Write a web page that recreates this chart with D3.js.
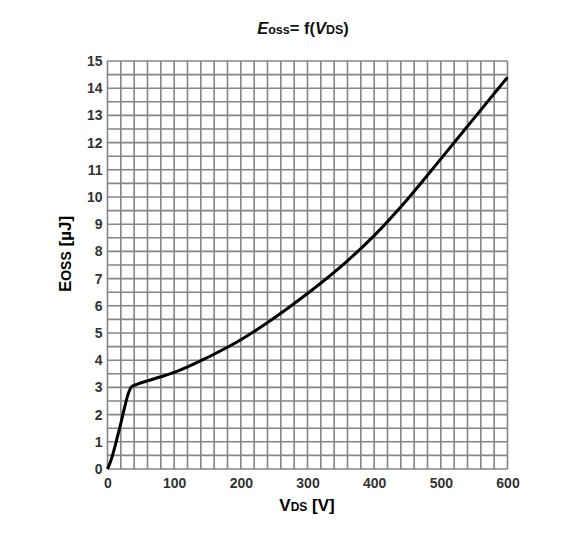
<!DOCTYPE html>
<html>
<head>
<meta charset="utf-8">
<script src="https://cdn.jsdelivr.net/npm/d3@7"></script>
<style>
  body { margin: 0; background: #fff; }
  text { font-family: "Liberation Sans", Arial, sans-serif; font-weight: bold; }
</style>
</head>
<body>
<div id="chart"></div>
<script>
// Eoss curve
const vds  = [0, 5, 10, 15, 20, 25, 30, 36, 45, 60, 80, 100, 150, 200, 250, 300, 350, 400, 450, 500, 550, 600];
const eoss = [0, 0.3, 0.72, 1.2, 1.68, 2.2, 2.68, 3.02, 3.12, 3.24, 3.39, 3.55, 4.1, 4.75, 5.55, 6.45, 7.44, 8.58, 9.92, 11.4, 12.9, 14.4];
const xTicks = [0, 100, 200, 300, 400, 500, 600];
const yTicks = [0, 1, 2, 3, 4, 5, 6, 7, 8, 9, 10, 11, 12, 13, 14, 15];

const width = 580, height = 540;
const margin = { left: 107.5, right: 72.5, top: 61, bottom: 71 };

const svg = d3.select("#chart").append("svg")
  .attr("width", width)
  .attr("height", height);

const x = d3.scaleLinear().domain([0, 600]).range([margin.left, width - margin.right]);
const y = d3.scaleLinear().domain([0, 15]).range([height - margin.bottom, margin.top]);

// grid: 20 V and 0.5 µJ steps
const grid = svg.append("g").attr("stroke", "#858585").attr("stroke-width", 1.6);
grid.selectAll("line.v")
  .data(d3.range(0, 601, 20))
  .join("line")
  .attr("x1", d => x(d)).attr("x2", d => x(d))
  .attr("y1", y(0)).attr("y2", y(15));
grid.selectAll("line.h")
  .data(d3.range(0, 15.01, 0.5))
  .join("line")
  .attr("x1", x(0)).attr("x2", x(600))
  .attr("y1", d => y(d)).attr("y2", d => y(d));

// axes (labels only)
const xAxis = svg.append("g")
  .attr("transform", `translate(0,${y(0)})`)
  .call(d3.axisBottom(x).tickValues(xTicks).tickSize(0).tickPadding(9));
const yAxis = svg.append("g")
  .attr("transform", `translate(${x(0)},0)`)
  .call(d3.axisLeft(y).tickValues(yTicks).tickSize(0).tickPadding(5));
[xAxis, yAxis].forEach(a => {
  a.select(".domain").remove();
  a.selectAll("text")
    .attr("fill", "#333")
    .style("font-size", "14px")
    .style("font-family", "'Liberation Sans', Arial, sans-serif")
    .style("font-weight", "bold");
});

// curve
const line = d3.line()
  .x((d, i) => x(vds[i]))
  .y(d => y(d))
  .curve(d3.curveMonotoneX);

svg.append("path")
  .datum(eoss)
  .attr("d", line)
  .attr("fill", "none")
  .attr("stroke", "#000")
  .attr("stroke-width", 3)
  .attr("stroke-linejoin", "round");

// title
const title = svg.append("text")
  .attr("x", 303)
  .attr("y", 34)
  .attr("text-anchor", "middle")
  .attr("fill", "#111")
  .style("font-size", "16.5px");
title.append("tspan").style("font-style", "italic").text("E");
title.append("tspan").style("font-size", "12.5px").text("oss");
title.append("tspan").text("= f(");
title.append("tspan").style("font-style", "italic").text("V");
title.append("tspan").style("font-size", "12.5px").text("DS");
title.append("tspan").text(")");

// x axis title
const xt = svg.append("text")
  .attr("x", 307)
  .attr("y", 511)
  .attr("text-anchor", "middle")
  .attr("fill", "#000")
  .style("font-size", "17px");
xt.append("tspan").text("V");
xt.append("tspan").style("font-size", "12px").text("DS");
xt.append("tspan").text(" [V]");

// y axis title
const yt = svg.append("text")
  .attr("transform", "translate(71,254) rotate(-90)")
  .attr("text-anchor", "middle")
  .attr("fill", "#000")
  .style("font-size", "17px");
yt.append("tspan").text("E");
yt.append("tspan").style("font-size", "14px").text("OSS");
yt.append("tspan").text(" [µJ]");
</script>
</body>
</html>
